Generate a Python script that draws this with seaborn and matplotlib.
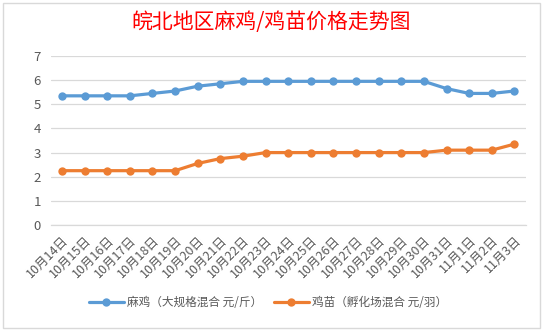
import numpy as np
import pandas as pd
import matplotlib
matplotlib.use("Agg")
import matplotlib.pyplot as plt
from matplotlib.lines import Line2D
from matplotlib.patches import Rectangle
import seaborn as sns

dates = ["10月14日", "10月15日", "10月16日", "10月17日", "10月18日", "10月19日",
         "10月20日", "10月21日", "10月22日", "10月23日", "10月24日", "10月25日",
         "10月26日", "10月27日", "10月28日", "10月29日", "10月30日", "10月31日",
         "11月1日", "11月2日", "11月3日"]
maji = [5.35, 5.35, 5.35, 5.35, 5.45, 5.55, 5.75, 5.85, 5.95, 5.95, 5.95, 5.95,
        5.95, 5.95, 5.95, 5.95, 5.95, 5.65, 5.45, 5.45, 5.55]
jimiao = [2.25, 2.25, 2.25, 2.25, 2.25, 2.25, 2.55, 2.75, 2.85, 3.0, 3.0, 3.0,
          3.0, 3.0, 3.0, 3.0, 3.0, 3.1, 3.1, 3.1, 3.35]
series_names = ["麻鸡（大规格混合 元/斤）", "鸡苗（孵化场混合 元/羽）"]
colors = ["#5B9BD5", "#ED7D31"]
title = "皖北地区麻鸡/鸡苗价格走势图"
yticks = [0, 1, 2, 3, 4, 5, 6, 7]

sns.set_theme(style="white")
plt.rcParams["font.family"] = ["Noto Sans CJK SC", "DejaVu Sans"]

idx = np.arange(len(dates))
df = pd.concat([
    pd.DataFrame({"idx": idx, "price": maji, "series": series_names[0]}),
    pd.DataFrame({"idx": idx, "price": jimiao, "series": series_names[1]}),
])

fig = plt.figure(figsize=(5.42, 3.30), dpi=100)
ax = fig.add_axes([50.7 / 542, 105 / 330, 475 / 542, 169 / 330])

sns.lineplot(data=df, x="idx", y="price", hue="series", palette=colors,
             marker="o", markersize=6, markeredgewidth=0, linewidth=2.3,
             sort=False, legend=False, ax=ax)

ax.set_xlim(-0.5, len(dates) - 0.5)
ax.set_ylim(0, 7)
ax.set_yticks(yticks)
ax.set_yticklabels([str(v) for v in yticks], color="#595959", fontsize=9.5)
ax.yaxis.grid(True, color="#D9D9D9", linewidth=0.9)
ax.set_axisbelow(True)
ax.set_xlabel("")
ax.set_ylabel("")

ax.set_xticks(idx)
ax.set_xticklabels(dates, rotation=45, ha="right", rotation_mode="anchor",
                   color="#595959", fontsize=9)
ax.set_xticks(np.arange(-0.5, len(dates), 1.0), minor=True)
ax.tick_params(axis="x", which="major", length=0, pad=6)
ax.tick_params(axis="x", which="minor", length=4.5, color="#D9D9D9", width=0.9)
ax.tick_params(axis="y", length=0, pad=7)

for s in ["left", "right", "top"]:
    ax.spines[s].set_visible(False)
ax.spines["bottom"].set_color("#D9D9D9")
ax.spines["bottom"].set_linewidth(0.9)

fig.text(0.5, 1 - 22 / 330, title, ha="center", va="center", color="#FF0000",
         fontsize=15, fontweight="normal")

handles = [Line2D([0], [0], color=c, lw=2.3, marker="o", markersize=6,
                  markeredgewidth=0) for c in colors]
fig.legend(handles, series_names, loc="center", bbox_to_anchor=(268 / 542, 1 - 303 / 330),
           ncol=2, frameon=False, fontsize=8.4, labelcolor="#595959",
           handlelength=3.0, columnspacing=1.0, handletextpad=0.3)

fig.patches.append(Rectangle((2.5 / 542, 2.5 / 330), 537 / 542, 325 / 330,
                             transform=fig.transFigure, fill=False,
                             edgecolor="#D9D9D9", linewidth=1.0))

fig.savefig("out.png", dpi=100)
